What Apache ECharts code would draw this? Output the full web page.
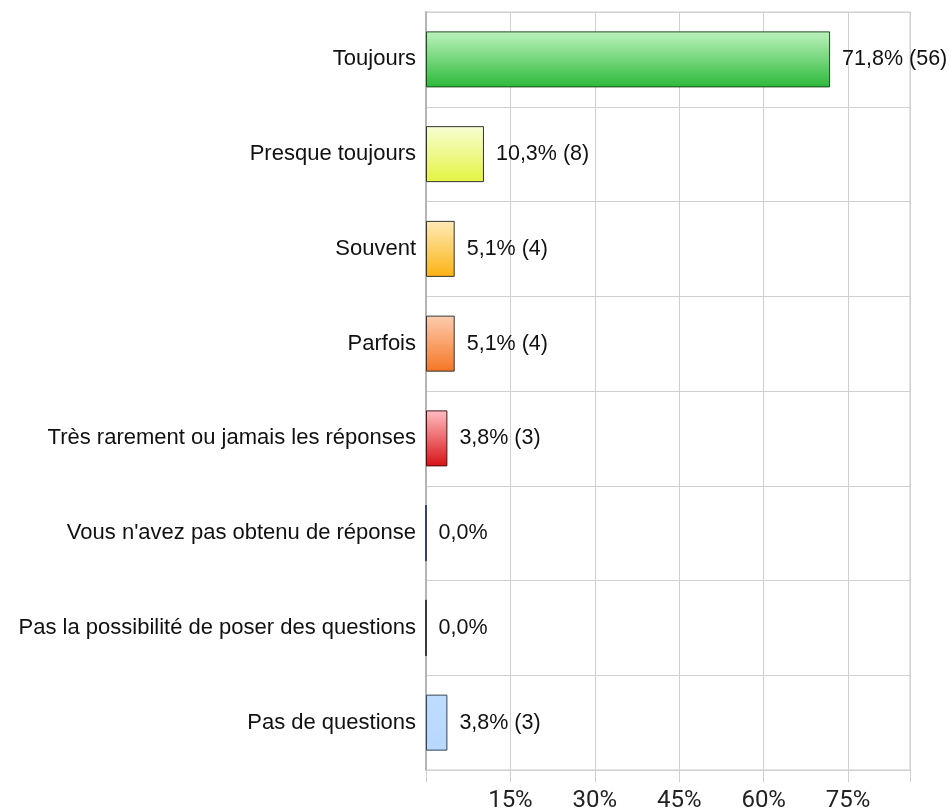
<!DOCTYPE html>
<html>
<head>
<meta charset="utf-8">
<script src="https://cdn.jsdelivr.net/npm/echarts@6/dist/echarts.min.js"></script>
<style>
  html, body { margin: 0; padding: 0; background: #fff; }
  #chart { width: 952px; height: 810px; }
</style>
</head>
<body>
<div id="chart"></div>
<script>
// réponses
const categories = [
  'Toujours',
  'Presque toujours',
  'Souvent',
  'Parfois',
  'Très rarement ou jamais les réponses',
  "Vous n'avez pas obtenu de réponse",
  'Pas la possibilité de poser des questions',
  'Pas de questions'
]
const percents = [71.8, 10.3, 5.1, 5.1, 3.8, 0, 0, 3.8]
const counts = [56, 8, 4, 4, 3, 0, 0, 3]
const xTicks = [15, 30, 45, 60, 75]

// couleurs des barres (haut, bas, bordure)
const barColors = [
  ['#bdf2bd', '#2cb93a', '#1b4d1b'],
  ['#f7fdd2', '#e5f443', '#333333'],
  ['#feebb8', '#fbb313', '#333333'],
  ['#fccdb0', '#f57624', '#333333'],
  ['#ffbfc2', '#d71116', '#4a1010'],
  ['#1a2a5a', '#1a2a5a', '#10204a'],
  ['#111111', '#111111', '#111111'],
  ['#bfdcfd', '#b8d8fc', '#334455']
]

const myChart = echarts.init(document.getElementById('chart'))

let seriesData = percents.map((v, i) => {
  return {
    value: v,
    itemStyle: {
      color: new echarts.graphic.LinearGradient(0, 0, 0, 1, [
        { offset: 0, color: barColors[i][0] },
        { offset: 1, color: barColors[i][1] }
      ]),
      borderColor: barColors[i][2],
      borderWidth: 1
    }
  }
})

let option = {
  animation: false,
  backgroundColor: '#fff',
  grid: {
    left: 426,
    right: 42,
    top: 12,
    bottom: 40,
    outerBoundsMode: 'none',
    show: true,
    borderColor: '#cfcfcf',
    borderWidth: 1
  },
  xAxis: {
    type: 'value',
    min: 0,
    max: 86,
    interval: 15,
    axisLine: { show: false },
    axisTick: { show: true, length: 12, lineStyle: { color: '#cfcfcf' } },
    splitLine: { show: true, lineStyle: { color: '#cfcfcf', width: 1 } },
    axisLabel: {
      margin: 19,
      fontFamily: 'Roboto',
      fontSize: 24,
      color: '#222',
      formatter: function (v) {
        return xTicks.indexOf(v) >= 0 ? v + '%' : ''
      }
    }
  },
  yAxis: {
    type: 'category',
    inverse: true,
    data: categories,
    axisLine: { show: true, lineStyle: { color: '#b5b5b5', width: 2 } },
    axisTick: { show: false },
    splitLine: { show: true, lineStyle: { color: '#cfcfcf', width: 1 } },
    axisLabel: {
      margin: 10,
      fontFamily: 'Liberation Sans',
      fontSize: 22,
      color: '#111'
    }
  },
  series: [{
    type: 'bar',
    barWidth: 56,
    data: seriesData,
    label: {
      show: true,
      position: 'right',
      distance: 12,
      fontFamily: 'Liberation Sans',
      fontSize: 21.5,
      color: '#111',
      formatter: function (p) {
        let s = p.value.toFixed(1).replace('.', ',') + '%'
        if (counts[p.dataIndex] > 0) s += ' (' + counts[p.dataIndex] + ')'
        return s
      }
    }
  }]
}

myChart.setOption(option)
</script>
</body>
</html>
